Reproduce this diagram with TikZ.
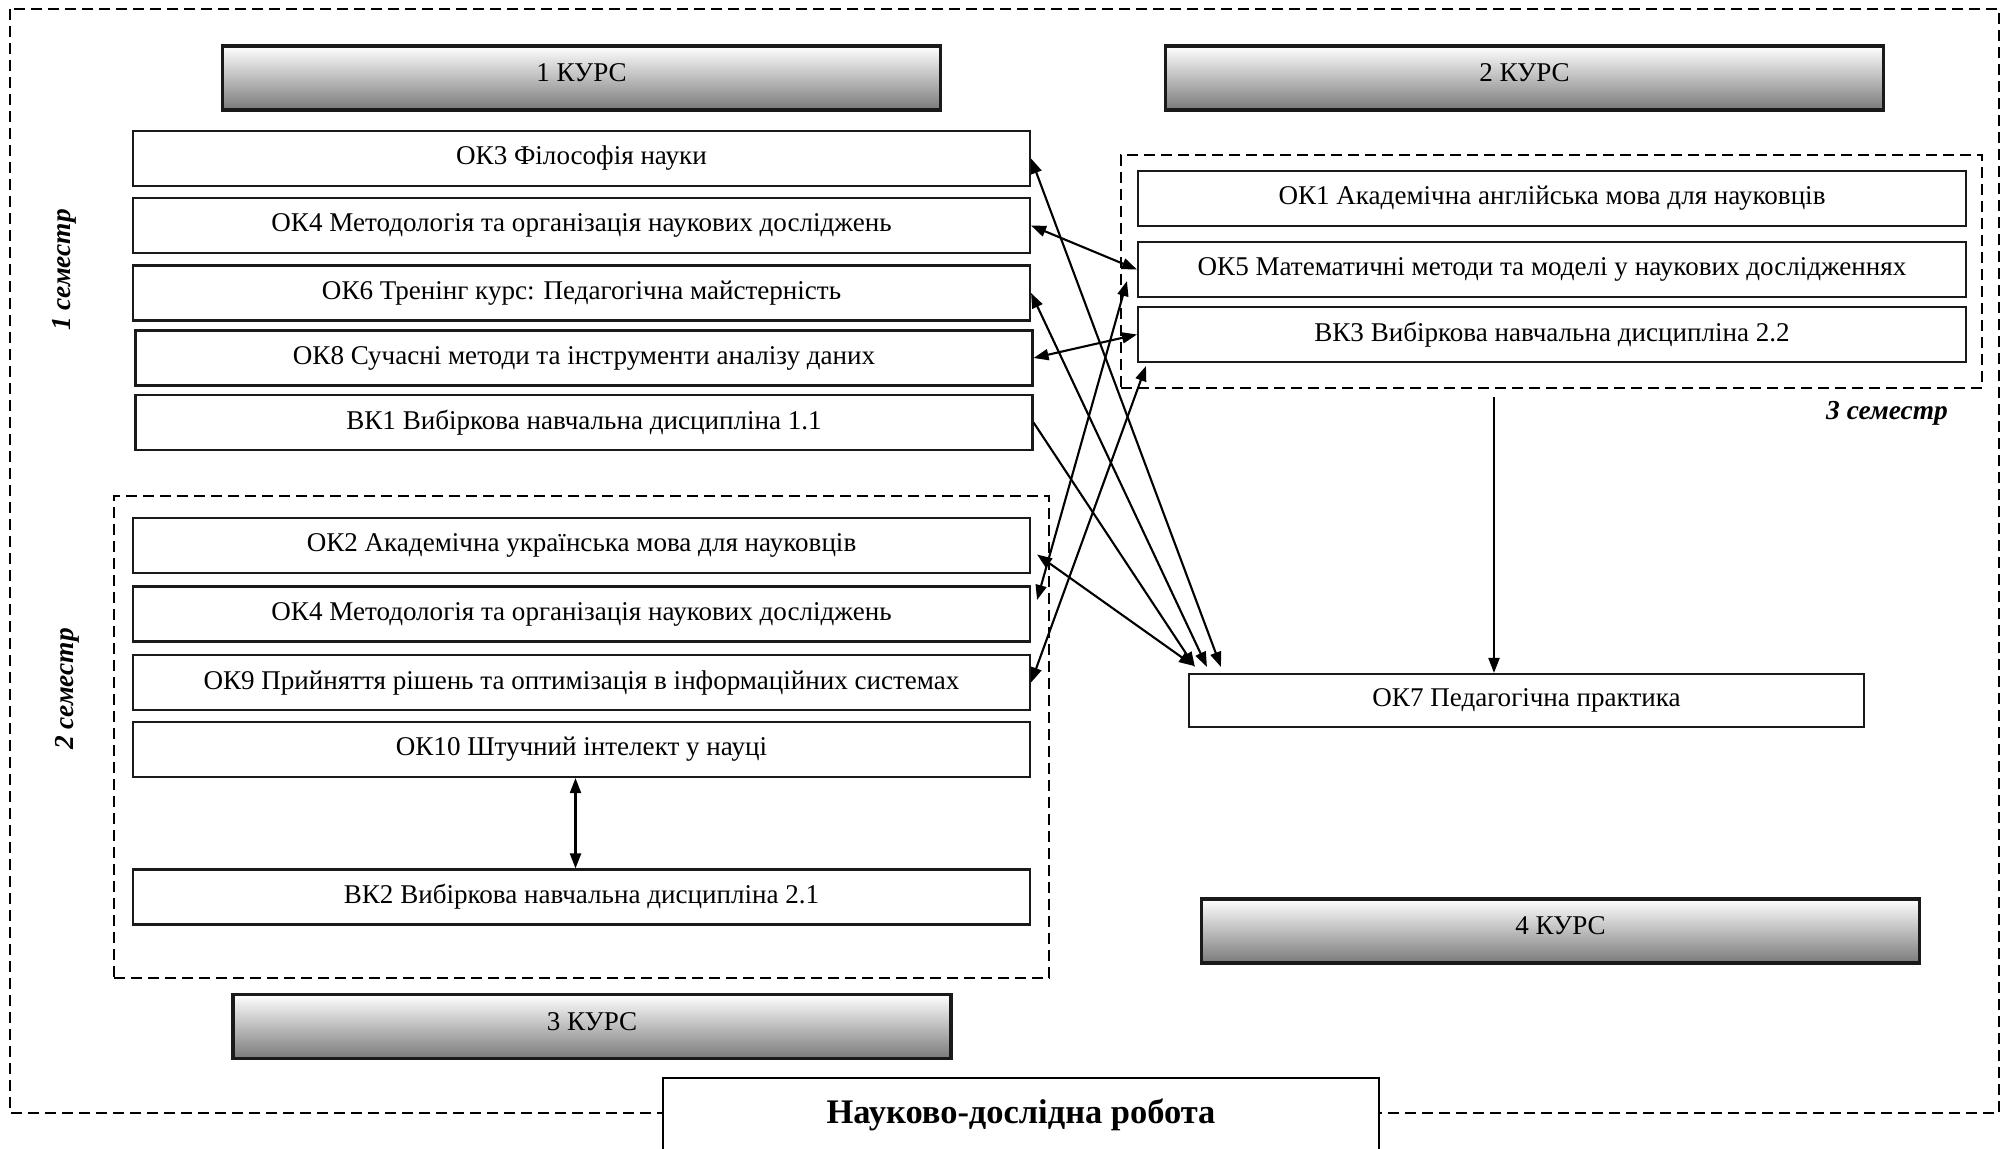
\documentclass[tikz,border=0pt]{standalone}
\usepackage{fontspec}
\setmainfont{Liberation Serif}
\usetikzlibrary{arrows.meta,positioning,calc,fit}
\definecolor{CourseGray}{HTML}{7A7A7A}
\definecolor{FrameInk}{HTML}{1A1A1A}

\begin{document}
\begin{tikzpicture}[x=1cm, y=-1cm,
    >={Triangle[length=1.5mm, width=1.1mm]},
    subj/.style={draw=FrameInk, line width=0.6pt, fill=white, inner sep=0pt,
      minimum width=8.97cm, minimum height=0.55cm, font=\fontsize{7.7}{9}\selectfont},
    course/.style={draw=FrameInk, line width=0.9pt, top color=white, bottom color=CourseGray,
      inner sep=0pt, text depth=0.3em, minimum width=7.18cm, minimum height=0.64cm,
      font=\fontsize{7.7}{9}\selectfont},
    semframe/.style={draw, dashed, dash pattern=on 1.1mm off 0.6mm, line width=0.45pt, inner sep=0pt},
    semlabel/.style={font=\fontsize{7.8}{9}\selectfont\bfseries\itshape},
    link/.style={line width=0.6pt}]
  \useasboundingbox (0,0) rectangle (20.06,11.49);
  % outer frame
  \draw[semframe] (0.10,0.09) rectangle (19.99,11.13);
  % semester frames
  \node[semframe, fit={(1.14,4.96) (10.49,9.78)}] (sem2) {};
  \node[semframe, fit={(11.21,1.55) (19.82,3.88)}] (sem3) {};
  % course headers
  \node[course] (c1) at (5.815,0.78) {1 КУРС};
  \node[course] (c2) at (15.245,0.78) {2 КУРС};
  \node[course] (c3) at (5.92,10.265) {3 КУРС};
  \node[course] (c4) at (15.605,9.31) {4 КУРС};
  % 1 semester
  \node[subj] (ok3) at (5.815,1.585) {ОК3 Філософія науки};
  \node[subj] (ok4a) at (5.815,2.255) {ОК4 Методологія та організація наукових досліджень};
  \node[subj] (ok6) at (5.815,2.93) {ОК6 Тренінг курс: Педагогічна майстерність};
  \node[subj] (ok8) at (5.84,3.58) {ОК8 Сучасні методи та інструменти аналізу даних};
  \node[subj] (vk1) at (5.84,4.225) {ВК1 Вибіркова навчальна дисципліна 1.1};
  % 2 semester
  \node[subj] (ok2) at (5.815,5.455) {ОК2 Академічна українська мова для науковців};
  \node[subj] (ok4b) at (5.815,6.14) {ОК4 Методологія та організація наукових досліджень};
  \node[subj] (ok9) at (5.815,6.825) {ОК9 Прийняття рішень та оптимізація в інформаційних системах};
  \node[subj] (ok10) at (5.815,7.495) {ОК10 Штучний інтелект у науці};
  \node[subj] (vk2) at (5.815,8.97) {ВК2 Вибіркова навчальна дисципліна 2.1};
  % 3 semester
  \node[subj, minimum width=8.28cm] (ok1) at (15.52,1.985) {ОК1 Академічна англійська мова для науковців};
  \node[subj, minimum width=8.28cm] (ok5) at (15.52,2.695) {ОК5 Математичні методи та моделі у наукових дослідженнях};
  \node[subj, minimum width=8.28cm] (vk3) at (15.52,3.345) {ВК3 Вибіркова навчальна дисципліна 2.2};
  % practice
  \node[subj, minimum width=6.75cm, minimum height=0.53cm] (ok7) at (15.265,7.005) {ОК7 Педагогічна практика};
  % semester labels
  \node[semlabel, rotate=90] (s1) at (0.64,2.70) {1 семестр};
  \node[semlabel, rotate=90] (s2) at (0.67,6.89) {2 семестр};
  \node[semlabel] (s3) at (18.87,4.13) {3 семестр};
  % research work, open at the bottom
  \node[fill=white, inner sep=0pt, minimum width=7.14cm, minimum height=0.72cm,
    font=\fontsize{9.8}{11}\selectfont\bfseries] (nr) at (10.21,11.15) {Науково-дослідна робота};
  \draw[line width=0.6pt] (nr.south west) |- (nr.north east) -- (nr.south east);
  % links to the practice
  \draw[link, <->] (ok3.east) -- ($(ok7.north west)+(0.33,-0.06)$);
  \draw[link, <->] (ok6.east) -- ($(ok7.north west)+(0.19,-0.06)$);
  \draw[link, ->] (vk1.east) -- ($(ok7.north west)+(0.07,-0.06)$);
  \draw[link, <->] ($(ok2.east)+(0.06,0.09)$) -- ($(ok7.north west)+(0.06,-0.07)$);
  \draw[link, ->] ([xshift=-5.75mm, yshift=-0.8mm]sem3.south) -- ([xshift=-5.75mm]sem3.south |- ok7.north);
  % links between semesters
  \draw[link, <->] (ok4a.east) -- (ok5.west);
  \draw[link, <->] (ok8.east) -- (vk3.west);
  \draw[link, <->] ($(ok4b.east)+(0.06,-0.14)$) -- ($(ok5.south west)+(-0.10,-0.17)$);
  \draw[link, <->] (ok9.east) -- ($(vk3.south west)+(0.09,0.03)$);
  \draw[link, <->] ([xshift=-0.6mm]ok10.south) -- ([xshift=-0.6mm]vk2.north);
\end{tikzpicture}
\end{document}
